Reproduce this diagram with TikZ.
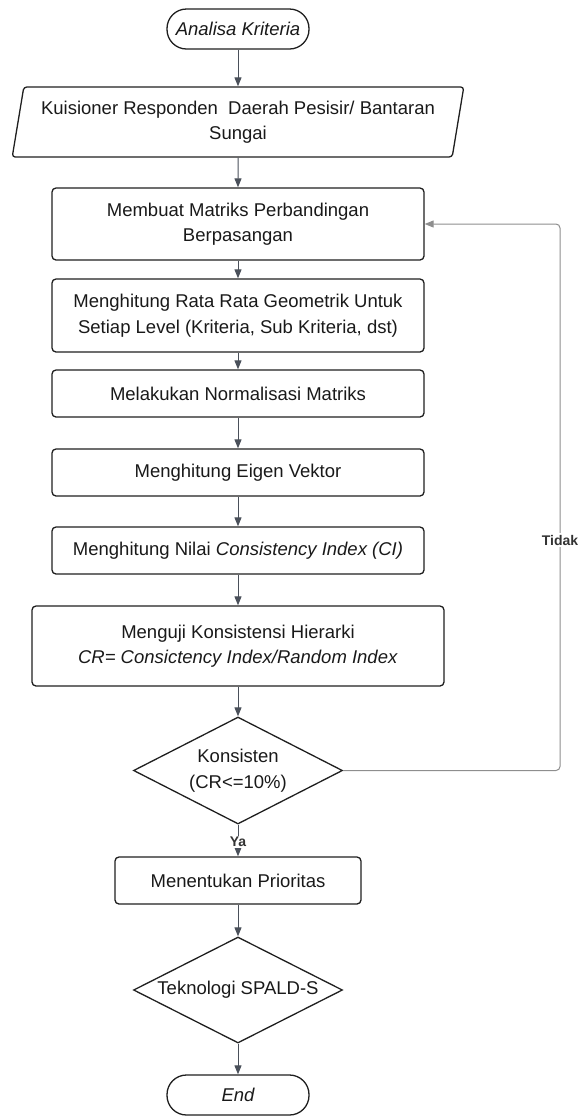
\documentclass[tikz,border=0pt]{standalone}
\usepackage{fontspec}
\setmainfont{Liberation Sans}
\usetikzlibrary{shapes.geometric,arrows.meta}
\definecolor{garis}{HTML}{4A505A}
\definecolor{balikan}{HTML}{8E8E8E}

\begin{document}
\begin{tikzpicture}[x=1pt,y=-1pt,
  every node/.style={font=\fontsize{18.5}{25.5}\selectfont,text=black!90,align=center},
  kotak/.style={draw=black!88,line width=1.3pt,rounded corners=4pt,inner sep=0pt,minimum width=372pt,minimum height=47pt},
  ujung/.style={draw=black!88,line width=1.3pt,rounded corners=19.5pt,inner sep=0pt,minimum width=142pt,minimum height=40pt,font=\fontsize{18.5}{25.5}\selectfont\itshape},
  cabang/.style={diamond,aspect=1.95,draw=black!88,line width=1.3pt,inner sep=0pt,minimum width=209pt,minimum height=107pt},
  masukan/.style={trapezium,trapezium left angle=76,trapezium right angle=104,trapezium stretches=true,draw=black!88,line width=1.3pt,rounded corners=3pt,inner sep=0pt,minimum width=454pt,minimum height=70pt},
  panah/.style={draw=garis,line width=1pt,-{Triangle[length=9pt,width=7pt]}},
  label/.style={fill=white,inner sep=1.5pt,text=black!80,font=\fontsize{14}{16}\selectfont\bfseries}]
\useasboundingbox (0,0) rectangle (581,1120);

\node[ujung] (mulai) at (238,29) {Analisa Kriteria};
\node[masukan] (kuis) at (238,122) {Kuisioner Responden\ \ Daerah Pesisir/ Bantaran\\Sungai};
\node[kotak,minimum height=72pt] (matriks) at (238,224) {Membuat Matriks Perbandingan\\Berpasangan};
\node[kotak,minimum height=73pt] (geomean) at (238,315.5) {Menghitung Rata Rata Geometrik Untuk\\Setiap Level (Kriteria, Sub Kriteria, dst)};
\node[kotak] (normal) at (238,393.5) {Melakukan Normalisasi Matriks};
\node[kotak] (eigen) at (238,472.5) {Menghitung Eigen Vektor};
\node[kotak] (ci) at (238,550.5) {Menghitung Nilai \textit{Consistency Index (CI)}};
\node[kotak,minimum width=412pt,minimum height=80pt] (uji) at (238,646) {Menguji Konsistensi Hierarki\\\textit{CR= Consictency Index/Random Index}};
\node[cabang] (cek) at (238,770.5) {Konsisten\\(CR<=10\%)};
\node[kotak,minimum width=246pt] (prioritas) at (238,880.5) {Menentukan Prioritas};
\node[cabang,minimum height=106pt] (teknologi) at (238,990) {Teknologi SPALD-S};
\node[ujung] (selesai) at (238,1095) {End};

\draw[panah] (mulai) -- (kuis);
\draw[panah] (kuis) -- (matriks);
\draw[panah] (matriks) -- (geomean);
\draw[panah] (geomean) -- (normal);
\draw[panah] (normal) -- (eigen);
\draw[panah] (eigen) -- (ci);
\draw[panah] (ci) -- (uji);
\draw[panah] (uji) -- (cek);
\draw[panah] (cek) -- (prioritas);
\draw[panah] (prioritas) -- (teknologi);
\draw[panah] (teknologi) -- (selesai);

\coordinate (balik) at (560,224);
\draw[panah,draw=balikan,rounded corners=4pt] (cek.east) -| (balik) -- (matriks.east);
\node[label] (tidak) at (560,540) {Tidak};
\node[label] (ya) at (238,842) {Ya};
\end{tikzpicture}
\end{document}
